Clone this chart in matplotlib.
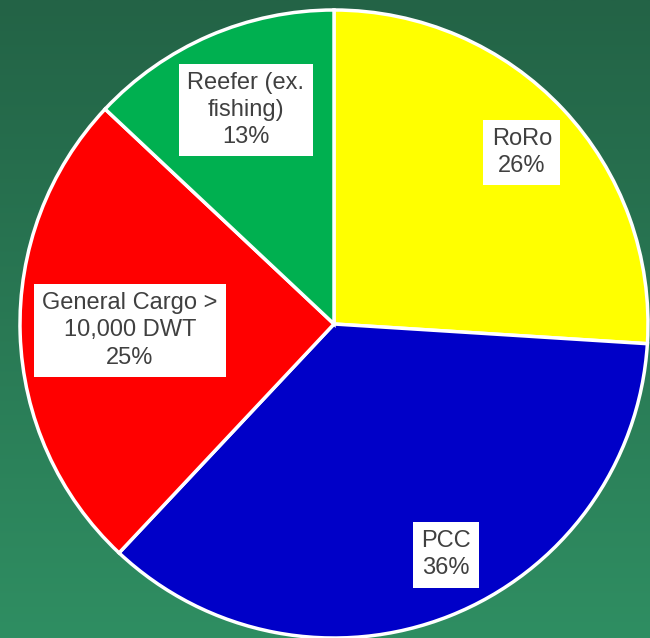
import numpy as np
import matplotlib.pyplot as plt
from matplotlib.colors import LinearSegmentedColormap

plt.rcParams['font.family'] = ['Liberation Sans', 'DejaVu Sans']

# Fleet share by ship type, clockwise from 12 o'clock
categories = ['RoRo', 'PCC', 'General Cargo >\n10,000 DWT', 'Reefer (ex.\nfishing)']
shares = [26, 36, 25, 13]
colors = ['#FFFF00', '#0000C8', '#FF0000', '#00B050']
label_radius = [0.81, 0.817, 0.65, 0.737]
label_shift = [-0.8, 4.3, 0.0, -1.0]  # degrees, nudges labels off the bisector

fig = plt.figure(figsize=(6.5, 6.38), dpi=100)

# green gradient backdrop
bg = fig.add_axes([0, 0, 1, 1], zorder=0)
cmap = LinearSegmentedColormap.from_list('bg', ['#236346', '#2F8E62'])
bg.imshow(np.linspace(0, 1, 256).reshape(-1, 1), cmap=cmap, aspect='auto',
          extent=[0, 1, 0, 1])
bg.axis('off')

ax = fig.add_axes([0, 0, 1, 1], zorder=1)
ax.patch.set_alpha(0)
wedges, _ = ax.pie(shares, colors=colors, startangle=90, counterclock=False,
                   radius=1.0,
                   wedgeprops=dict(edgecolor='white', linewidth=2.5))

for w, name, val, r, s in zip(wedges, categories, shares, label_radius, label_shift):
    mid = np.deg2rad((w.theta1 + w.theta2) / 2 + s)
    ax.text(r * np.cos(mid), r * np.sin(mid), f'{name}\n{val}%',
            ha='center', va='center', fontsize=17, color='#404040',
            linespacing=1.3,
            bbox=dict(boxstyle='square,pad=0.35', fc='white', ec='none'))

ax.set_xlim(-334 / 314, 316 / 314)
ax.set_ylim(-1.0, 324 / 314)
ax.set_aspect('equal')
ax.axis('off')

fig.savefig('out.png', dpi=100)
